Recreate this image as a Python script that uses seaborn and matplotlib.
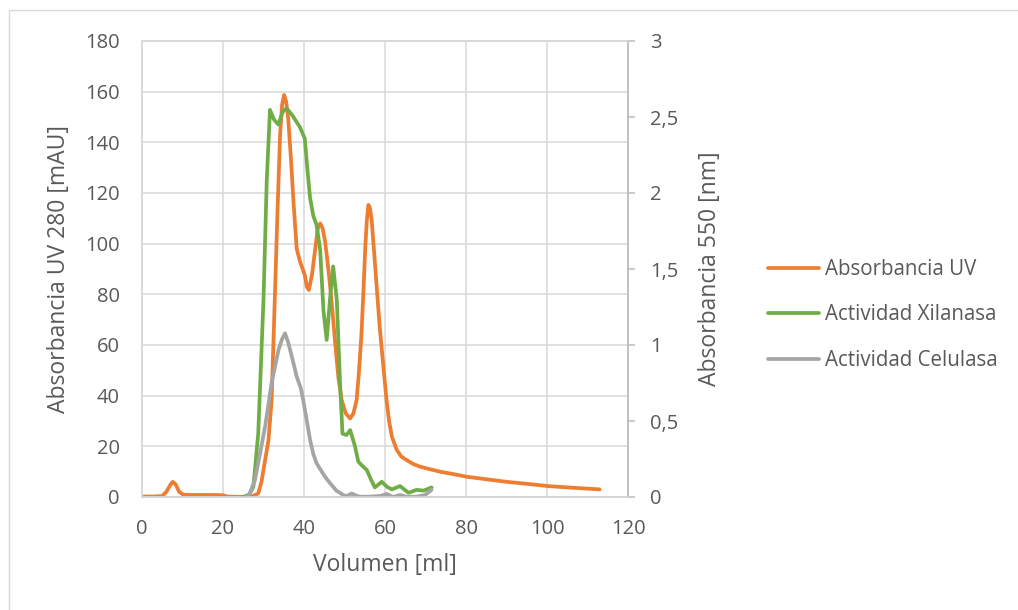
import matplotlib
matplotlib.use("Agg")
import matplotlib.pyplot as plt
import seaborn as sns
import pandas as pd
from matplotlib.lines import Line2D
from matplotlib.patches import Rectangle
from matplotlib.ticker import FuncFormatter, MultipleLocator

# UV absorbance at 280 nm (left axis, mAU)
uv_vol = [0, 3, 5, 6, 7, 7.6, 8.3, 9.2, 10.2, 12, 15, 18, 20, 21, 23, 26, 27.5, 28.7,
          29.5, 30.4, 31.2, 32, 32.8, 33.5, 34.1, 34.6, 35.1, 35.6, 36.1, 36.8, 37.4,
          38.2, 39, 40.2, 40.7, 41.2, 42, 42.7, 43.4, 44, 44.6, 45.2, 45.8, 46.4, 47.1,
          47.7, 48.5, 49.3, 50.3, 51.4, 52.2, 53, 53.6, 54.2, 54.7, 55.1, 55.5, 55.9,
          56.3, 56.7, 57.3, 57.9, 58.7, 59.6, 60.4, 61, 61.7, 62.9, 64, 65.3, 67, 68.6,
          71, 73.6, 77, 80.2, 85, 90, 95, 100.3, 105, 110, 113]
uv_abs = [0.2, 0.2, 0.4, 2, 4.8, 6, 5, 2, 0.9, 0.8, 0.8, 0.8, 0.7, 0.2, 0.1, 0, 0.5, 1.4,
          6, 14.6, 22, 38, 78.6, 115, 143, 155, 158.7, 156, 149.5, 133, 116.6,
          98, 93, 87.6, 83, 81.7, 88, 97, 106, 108, 106, 101, 93, 84, 72,
          60.7, 47, 38.3, 33, 31, 33, 38.3, 50, 64.6, 82, 97.5, 109, 115.3,
          114, 109.4, 97, 84, 67, 51.4, 38, 30, 23.8, 18.6, 16, 14.6, 13, 12,
          11, 10, 9, 8, 7, 6, 5.2, 4.3, 3.8, 3.3, 3]

# Xylanase activity, absorbance at 550 (right axis)
xil_vol = [25, 26.5, 27.5, 28.7, 30, 30.8, 31.6, 32.6, 33.7, 34.7, 35.7, 37.2, 39, 40.2,
           40.8, 41.5, 42.3, 43.1, 44, 44.8, 45.6, 46.4, 47.2, 48.1, 48.9, 49.5, 50.5,
           51.4, 52.6, 53.4, 54.2, 55.5, 56.5, 57.5, 59.2, 60.5, 61.7, 63.7, 65.8, 67.8,
           69.5, 71.5]
xil_abs = [0, 0.017, 0.067, 0.417, 1.30, 2.08, 2.547, 2.483, 2.45, 2.533, 2.558, 2.508,
           2.433, 2.358, 2.167, 1.967, 1.85, 1.79, 1.625, 1.23, 1.033, 1.297, 1.517, 1.297,
           0.75, 0.417, 0.408, 0.44, 0.333, 0.233, 0.21, 0.178, 0.117, 0.063, 0.1, 0.067,
           0.05, 0.072, 0.028, 0.047, 0.042, 0.063]

# Cellulase activity, absorbance at 550 (right axis)
cel_vol = [25.5, 26.5, 27.9, 29, 30.4, 32, 33.7, 34.5, 35.3, 36.1, 37, 38.2, 39.2, 39.8,
           40.7, 41.5, 42.3, 43.1, 44.2, 45.2, 46.4, 48, 49.7, 50.5, 51.8, 53, 53.8, 56,
           58.8, 60.4, 62, 63.7, 65.3, 67.8, 69.9, 71.5]
cel_abs = [0, 0.017, 0.112, 0.267, 0.463, 0.75, 0.967, 1.033, 1.077, 1.017, 0.923, 0.792,
           0.717, 0.638, 0.5, 0.375, 0.283, 0.222, 0.175, 0.133, 0.092, 0.042, 0.013,
           0.005, 0.023, 0.008, 0.002, 0.002, 0.007, 0.02, 0, 0.013, 0.002, 0.002, 0.013,
           0.047]

series_names = ["Absorbancia UV", "Actividad Xilanasa", "Actividad Celulasa"]
colors = ["#ED7D31", "#70AD47", "#A5A5A5"]

sns.set_theme(style="white")
plt.rcParams['font.family'] = ['Open Sans', 'DejaVu Sans']

text_col = "#595959"
grid_col = "#d9d9d9"
lw = 2.7

fig = plt.figure(figsize=(10.18, 6.10), dpi=100)
ax = fig.add_axes([142 / 1018, 1 - 497 / 610, (628 - 142) / 1018, (497 - 41) / 610])
ax2 = ax.twinx()

df_uv = pd.DataFrame({"vol": uv_vol, "val": uv_abs})
df_xil = pd.DataFrame({"vol": xil_vol, "val": xil_abs})
df_cel = pd.DataFrame({"vol": cel_vol, "val": cel_abs})

sns.lineplot(data=df_uv, x="vol", y="val", ax=ax, color=colors[0], linewidth=lw,
             estimator=None, legend=False)
sns.lineplot(data=df_xil, x="vol", y="val", ax=ax2, color=colors[1], linewidth=lw,
             estimator=None, legend=False)
sns.lineplot(data=df_cel, x="vol", y="val", ax=ax2, color=colors[2], linewidth=lw,
             estimator=None, legend=False)

ax.set_xlim(0, 120)
ax.set_ylim(0, 180)
ax2.set_ylim(0, 3)
ax.xaxis.set_major_locator(MultipleLocator(20))
ax.yaxis.set_major_locator(MultipleLocator(20))
ax2.yaxis.set_major_locator(MultipleLocator(0.5))
ax2.yaxis.set_major_formatter(FuncFormatter(lambda v, p: f"{v:g}".replace(".", ",")))

ax.grid(True, color=grid_col, linewidth=1.1)
ax.set_axisbelow(True)
ax2.grid(False)

for a in (ax, ax2):
    for s in a.spines.values():
        s.set_color(grid_col)
        s.set_linewidth(1.1)
ax2.spines["right"].set_color("#bfbfbf")
ax2.spines["right"].set_linewidth(1.3)
ax.spines["bottom"].set_color("#bfbfbf")

ax.tick_params(axis="y", length=0, pad=16, labelsize=14.5, labelcolor=text_col)
ax.tick_params(axis="x", length=0, pad=16, labelsize=14.5, labelcolor=text_col)
ax2.tick_params(axis="y", length=5, width=1.2, color="#bfbfbf", pad=11,
                labelsize=14.5, labelcolor=text_col)

ax.set_xlabel("Volumen [ml]", fontsize=16.5, color=text_col, labelpad=10)
ax.set_ylabel("Absorbancia UV 280 [mAU]", fontsize=16.5, color=text_col, labelpad=10)
ax2.set_ylabel("Absorbancia 550 [nm]", fontsize=16.5, color=text_col, labelpad=14)

handles = [Line2D([0], [0], color=c, linewidth=lw) for c in colors]
fig.legend(handles, series_names, loc="center left",
           bbox_to_anchor=(749 / 1018, 1 - 315 / 610), frameon=False,
           fontsize=14.8, labelcolor=text_col, handlelength=2.5,
           handletextpad=0.3, labelspacing=1.18)

fig.patches.append(Rectangle((9 / 1018, -0.1), 1.2, 1.1 - 10 / 610,
                             transform=fig.transFigure, fill=False,
                             edgecolor=grid_col, linewidth=1.0))

fig.savefig("out.png", dpi=100)
